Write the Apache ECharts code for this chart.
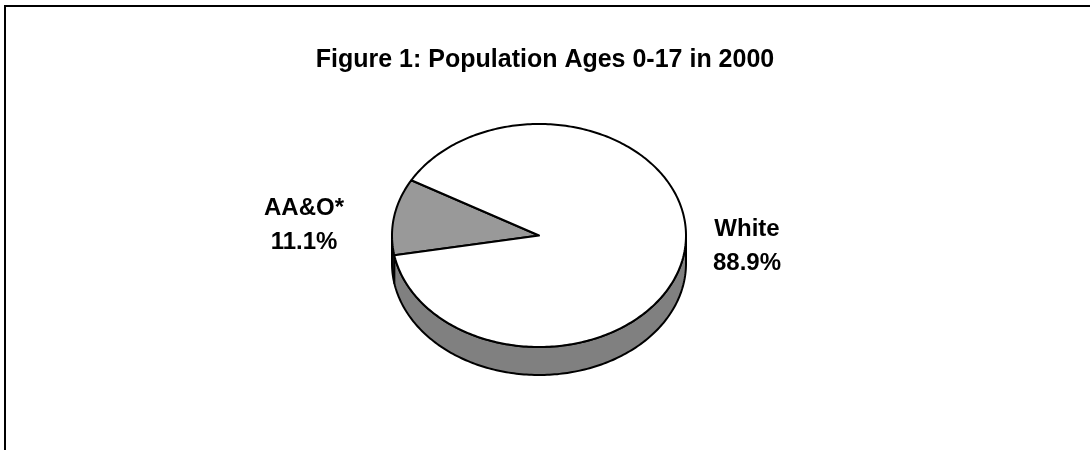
<!DOCTYPE html>
<html>
<head>
<meta charset="utf-8">
<style>
  html, body { margin: 0; padding: 0; background: #ffffff; }
  #chart { width: 1090px; height: 450px; }
</style>
<script src="https://cdn.jsdelivr.net/npm/echarts@6/dist/echarts.min.js"></script>
</head>
<body>
<div id="chart"></div>
<script>
// ---- data ----
var categories = ['AA&O*', 'White'];
var values = [11.1, 88.9];
var sliceColors = ['#999999', '#ffffff'];
var titleText = 'Figure 1: Population Ages 0-17 in 2000';

// ---- layout ----
var CX = 539, CY = 235.5, RX = 147, RY = 111.5, DEPTH = 28;
var START_ANGLE = 150.3; // degrees, counter-clockwise, math orientation
var SIDE_COLOR = '#808080';
var FONT = '"Liberation Sans", Arial, Helvetica, sans-serif';

var total = values.reduce(function (a, b) { return a + b; }, 0);

function pt(a, dy) {
  var r = a * Math.PI / 180;
  return [CX + RX * Math.cos(r), CY - RY * Math.sin(r) + (dy || 0)];
}
function arcPts(a1, a2, dy) {
  var pts = [];
  var n = Math.max(2, Math.ceil(Math.abs(a2 - a1)));
  for (var i = 0; i <= n; i++) pts.push(pt(a1 + (a2 - a1) * i / n, dy));
  return pts;
}

function renderItem(params, api) {
  var idx = params.dataIndex;
  var cum = 0;
  for (var i = 0; i < idx; i++) cum += values[i];
  var v = api.value(0);
  var a1 = START_ANGLE + cum / total * 360;
  var a2 = a1 + v / total * 360;
  var children = [];
  // side (front half: angles 180..360 mod 360)
  for (var k = -1; k <= 2; k++) {
    var lo = 180 + 360 * k, hi = 360 + 360 * k;
    var s = Math.max(a1, lo), e = Math.min(a2, hi);
    if (e > s) {
      var top = arcPts(s, e, 0);
      var bot = arcPts(e, s, DEPTH);
      children.push({
        type: 'polygon',
        shape: { points: top.concat(bot) },
        style: { fill: SIDE_COLOR, stroke: '#000', lineWidth: 2, lineJoin: 'round' }
      });
    }
  }
  // top face
  var face = [[CX, CY]].concat(arcPts(a1, a2, 0));
  children.push({
    type: 'polygon',
    shape: { points: face },
    style: { fill: sliceColors[idx], stroke: '#000', lineWidth: 2, lineJoin: 'round' }
  });
  return { type: 'group', children: children };
}

var labelPos = [[304, 225], [747, 246]];

var chart = echarts.init(document.getElementById('chart'), null, { renderer: 'canvas' });
chart.setOption({
  backgroundColor: '#ffffff',
  animation: false,
  title: {
    text: titleText,
    left: 'center',
    top: 43,
    textStyle: { fontFamily: FONT, fontSize: 25, fontWeight: 'bold', color: '#000' }
  },
  graphic: [
    {
      type: 'rect', silent: true,
      shape: { x: 5, y: 6, width: 1200, height: 700 },
      style: { fill: 'none', stroke: '#000', lineWidth: 2 }
    }
  ].concat(categories.map(function (c, i) {
    return {
      type: 'text', silent: true,
      x: labelPos[i][0], y: labelPos[i][1],
      style: {
        text: c + '\n' + values[i].toFixed(1) + '%',
        font: 'bold 24px ' + FONT,
        fill: '#000',
        align: 'center',
        verticalAlign: 'middle',
        lineHeight: 34
      }
    };
  })),
  series: [{
    type: 'custom',
    coordinateSystem: 'none',
    renderItem: renderItem,
    data: values.map(function (v) { return [v]; })
  }]
});
</script>
</body>
</html>
